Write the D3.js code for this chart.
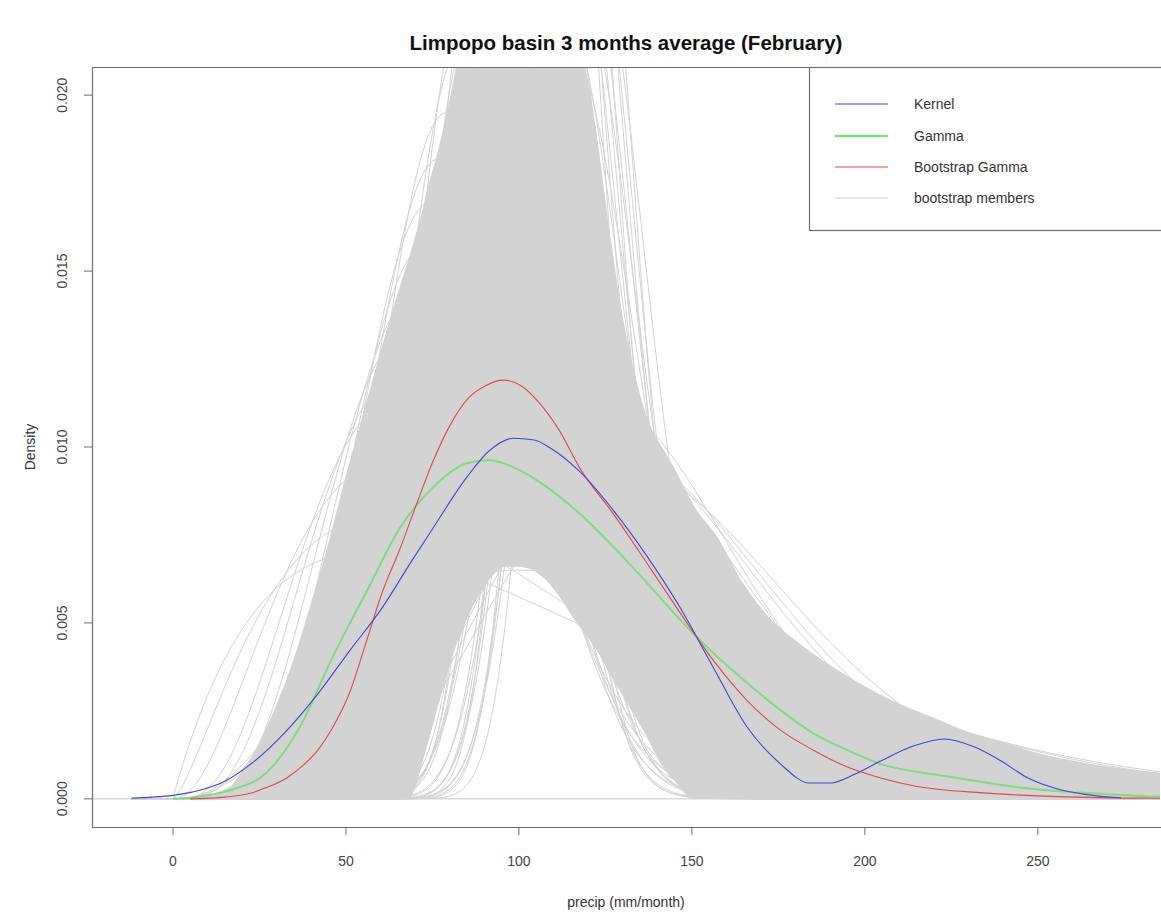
<!DOCTYPE html>
<html>
<head>
<meta charset="utf-8">
<script src="https://cdn.jsdelivr.net/npm/d3@7"></script>
<style>
  body { margin: 0; background: #ffffff; }
  svg { display: block; }
  text { font-family: "Liberation Sans", Arial, sans-serif; }
</style>
</head>
<body>
<svg id="chart" width="1161" height="914"></svg>
<script>
// ---- labels ----
const chartTitle = "Limpopo basin 3 months average (February)";
const xAxisLabel = "precip (mm/month)";
const yAxisLabel = "Density";
const xTickValues = [0, 50, 100, 150, 200, 250];
const yTickValues = [0, 0.005, 0.010, 0.015, 0.020];
const yTickLabels = ["0.000", "0.005", "0.010", "0.015", "0.020"];
const legendLabels = ["Kernel", "Gamma", "Bootstrap Gamma", "bootstrap members"];

// ---- kernel density estimate ----
const kernelX = [-12, -6, 0, 8, 15, 22, 32, 42, 51, 60.6, 68.6, 75.2, 85, 91.5, 98.4, 104.4, 109.4, 117.6,
  127.3, 137, 146.5, 156.1, 165.9, 175.5, 184, 190, 197, 205, 214, 223, 231, 239, 247, 255, 264, 274];
const kernelY = [0.00002, 0.00005, 0.0001, 0.00025, 0.0005, 0.00095, 0.00185, 0.003, 0.0042, 0.00545, 0.0067,
  0.0077, 0.00915, 0.0099, 0.01025, 0.0102, 0.00995, 0.0093, 0.0082, 0.0069, 0.00545, 0.00375, 0.00205, 0.001,
  0.00045, 0.00045, 0.0007, 0.0011, 0.0015, 0.0017, 0.0015, 0.0011, 0.0006, 0.0003, 0.00012, 0.00003];

// ---- fitted gamma density ----
const gammaX = [0, 5, 10, 17, 27, 37, 46, 56, 65.6, 75.2, 85, 91.5, 98.3, 108.1, 117.6, 127.3, 137, 146.5,
  156.1, 165.9, 175.5, 185, 194.8, 204.3, 224.5, 243.6, 263, 283, 300];
const gammaY = [0, 0.00003, 0.0001, 0.00026, 0.00074, 0.0021, 0.004, 0.0059, 0.0077, 0.00886, 0.00954, 0.00962,
  0.00943, 0.00886, 0.0081, 0.00716, 0.00614, 0.0051, 0.00415, 0.0033, 0.00253, 0.00187, 0.00139, 0.001,
  0.00063, 0.00034, 0.00017, 0.00007, 0.00004];

// ---- bootstrap gamma density ----
const bootX = [5, 15, 22, 27, 33, 37, 42, 46, 51, 56, 60.6, 65.6, 70.5, 75.2, 80, 85.5, 90.5, 95.5, 100.5, 105.5,
  111.5, 117.6, 127.3, 137, 146.5, 156.1, 165.9, 175.5, 185, 194.8, 204.3, 214.7, 234, 253.5, 278, 300];
const bootY = [0, 0.00005, 0.00015, 0.00032, 0.0006, 0.0009, 0.0014, 0.002, 0.003, 0.0045, 0.0059, 0.0071,
  0.0084, 0.0096, 0.0106, 0.0114, 0.01175, 0.0119, 0.01175, 0.0113, 0.0105, 0.0094, 0.0081, 0.0067, 0.0053,
  0.00395, 0.0028, 0.00196, 0.00139, 0.00091, 0.0006, 0.00036, 0.00017, 0.00007, 0.00002, 0.00001];

// ---- bootstrap members: extent of the region where the curves overlap into solid grey ----
const bandX = [14, 20, 25, 30, 35, 40, 45, 50, 56, 62, 66, 68, 70, 72, 74, 76, 78, 80, 84, 88, 92, 96, 100,
  104, 108, 112, 116, 119, 122, 126, 129, 132, 135, 138, 142, 146, 150, 157, 165, 172, 180, 190, 200, 210,
  220, 230, 240, 250, 265, 280, 292];
const bandTop = [0, 0.0008, 0.0016, 0.0027, 0.004, 0.0056, 0.0073, 0.0092, 0.0113, 0.0134, 0.0147, 0.0153,
  0.016, 0.0167, 0.0175, 0.0182, 0.019, 0.0199, 0.0215, 0.0215, 0.0215, 0.0215, 0.0215, 0.0215, 0.0215,
  0.0215, 0.0215, 0.0208, 0.0192, 0.0163, 0.0143, 0.0127, 0.0115, 0.0106, 0.0099, 0.0092, 0.0084, 0.0075,
  0.0061, 0.0052, 0.0045, 0.0038, 0.0032, 0.0027, 0.0023, 0.0019, 0.0016, 0.0013, 0.001, 0.0008, 0.0007];
const bandBottom = [0, 0, 0, 0, 0, 0, 0, 0, 0, 0, 0, 0, 0.0003, 0.001, 0.0017, 0.0024, 0.0031, 0.0038,
  0.0049, 0.0057, 0.0063, 0.0066, 0.0066, 0.0065, 0.0062, 0.0057, 0.0051, 0.0047, 0.0043, 0.0036, 0.0031,
  0.0026, 0.0021, 0.0016, 0.0009, 0.0004, 0, 0, 0, 0, 0, 0, 0, 0, 0, 0, 0, 0, 0, 0, 0];

// ---- bootstrap members: gamma fits, given by mode (mm/month) and peak density ----
const memberMode = [
  100, 96, 104, 92, 108, 98, 102, 112, 94, 106, 99, 110, 103, 97, 105, 101,
  56, 60, 63, 66, 68, 70, 72, 74, 75, 77, 79,
  116, 118, 120, 122, 124, 126, 128, 131,
  80, 82, 84, 85, 86, 87, 88, 89, 90, 90, 91, 92, 93, 94, 95, 95, 96, 97, 98, 99,
  100, 100, 101, 102, 103, 104, 105, 106, 107, 108, 109, 110, 111, 112, 114, 115,
  84, 85, 86, 87, 88, 88, 89, 90, 90, 91, 92, 92, 93, 94, 94, 95, 95, 96, 96, 97,
  98, 98, 99, 100, 100, 101, 102, 102, 103, 104, 104, 105, 106, 106, 107, 108, 109, 110, 111, 112,
  95, 95, 96, 96, 97, 97, 98, 98, 99, 99, 99, 100, 100, 100, 101, 101, 102,
  102, 102, 103, 103, 104, 104, 105, 105, 105, 106, 106, 107, 107, 108, 108, 97, 103,
  84, 86, 88, 112, 114, 116, 110, 90,
  112, 114, 115, 116, 117, 118, 119, 113, 120, 111
];
const memberPeak = [
  0.0065, 0.0068, 0.0067, 0.0071, 0.0070, 0.0074, 0.0076, 0.0073, 0.0079, 0.0081, 0.0083, 0.0078, 0.0086, 0.0088, 0.0090, 0.0092,
  0.0070, 0.0080, 0.0096, 0.0114, 0.0122, 0.0134, 0.0145, 0.0158, 0.0170, 0.0182, 0.0195,
  0.0125, 0.0112, 0.0118, 0.0106, 0.0113, 0.0101, 0.0099, 0.0094,
  0.0128, 0.0112, 0.0135, 0.0098, 0.0121, 0.0140, 0.0105, 0.0131, 0.0094, 0.0117, 0.0138, 0.0126, 0.0109, 0.0133, 0.0099, 0.0121, 0.0139, 0.0114, 0.0128, 0.0103,
  0.0136, 0.0119, 0.0096, 0.0130, 0.0111, 0.0138, 0.0124, 0.0101, 0.0133, 0.0116, 0.0127, 0.0108, 0.0135, 0.0120, 0.0112, 0.0130,
  0.0152, 0.0178, 0.0165, 0.0195, 0.0147, 0.0186, 0.0171, 0.0158, 0.0199, 0.0182, 0.0149, 0.0168, 0.0190, 0.0161, 0.0177, 0.0145, 0.0196, 0.0184, 0.0157, 0.0170,
  0.0189, 0.0151, 0.0175, 0.0163, 0.0198, 0.0181, 0.0154, 0.0172, 0.0193, 0.0166, 0.0148, 0.0185, 0.0159, 0.0176, 0.0192, 0.0162, 0.0179, 0.0150, 0.0169, 0.0157,
  0.0212, 0.0265, 0.0238, 0.0301, 0.0221, 0.0279, 0.0252, 0.0322, 0.0207, 0.0244, 0.0289, 0.0229, 0.0271, 0.0335, 0.0215, 0.0258, 0.0233,
  0.0297, 0.0226, 0.0276, 0.0211, 0.0249, 0.0312, 0.0224, 0.0268, 0.0203, 0.0241, 0.0285, 0.0218, 0.0259, 0.0232, 0.0275, 0.0205, 0.0242,
  0.0215, 0.0232, 0.0224, 0.0228, 0.0214, 0.0236, 0.0245, 0.0251,
  0.0300, 0.0280, 0.0320, 0.0260, 0.0290, 0.0270, 0.0310, 0.0265, 0.0250, 0.0330
];

// ---- layout ----
const svg = d3.select("#chart");
const plot = { left: 92, right: 1160, top: 67, bottom: 827 };

const x = d3.scaleLinear().domain([-23.4, 285.3]).range([plot.left, plot.right]);
const y = d3.scaleLinear().domain([-0.0008, 0.0208]).range([plot.bottom, plot.top]);

svg.append("defs").append("clipPath").attr("id", "plot-clip")
  .append("rect")
  .attr("x", plot.left).attr("y", plot.top)
  .attr("width", plot.right - plot.left).attr("height", plot.bottom - plot.top);

const area = svg.append("g").attr("clip-path", "url(#plot-clip)");

// zero line
area.append("line")
  .attr("x1", plot.left).attr("x2", plot.right)
  .attr("y1", y(0)).attr("y2", y(0))
  .attr("stroke", "#c8c8c8").attr("stroke-width", 1);

const memberGray = "#d3d3d3";
const line = d3.line().x(d => x(d[0])).y(d => y(d[1]));
const smooth = d3.line().x(d => x(d[0])).y(d => y(d[1])).curve(d3.curveMonotoneX);

// solid band where the member curves overlap densely
const band = d3.area()
  .x((d, i) => x(bandX[i]))
  .y0((d, i) => y(bandBottom[i]))
  .y1((d, i) => y(bandTop[i]))
  .curve(d3.curveMonotoneX);
area.append("path")
  .attr("d", band(bandX))
  .attr("fill", memberGray);

// member curves evaluated along the precipitation axis
const gridX = d3.range(-12, 301, 1);
function gammaCurve(mode, peak) {
  const k = 1 + Math.pow(Math.sqrt(2 * Math.PI) * peak * mode, 2);
  const theta = mode / (k - 1);
  return gridX.map(v => [v, v <= 0 ? 0 : peak * Math.exp((k - 1) * Math.log(v / mode) - (v - mode) / theta)]);
}

area.append("g").selectAll("path")
  .data(memberMode.map((m, i) => gammaCurve(m, memberPeak[i])))
  .join("path")
  .attr("d", line)
  .attr("fill", "none")
  .attr("stroke", memberGray)
  .attr("stroke-width", 1);

const curves = [
  { xs: gammaX, ys: gammaY, color: "#7ddd7d", width: 2 },
  { xs: bootX, ys: bootY, color: "#e04848", width: 1.1 },
  { xs: kernelX, ys: kernelY, color: "#4444d4", width: 1.1 }
];
area.append("g").selectAll("path")
  .data(curves)
  .join("path")
  .attr("d", c => smooth(c.xs.map((v, i) => [v, c.ys[i]])))
  .attr("fill", "none")
  .attr("stroke", c => c.color)
  .attr("stroke-width", c => c.width);

// frame (right side lies past the window edge)
svg.append("path")
  .attr("d", `M${plot.right + 3},${plot.top + 0.5}H${plot.left + 0.5}V${plot.bottom + 0.5}H${plot.right + 3}`)
  .attr("fill", "none").attr("stroke", "#6e6e6e").attr("stroke-width", 1.2);

// x axis
const xAxis = svg.append("g");
xAxis.selectAll("line").data(xTickValues).join("line")
  .attr("x1", d => x(d)).attr("x2", d => x(d))
  .attr("y1", plot.bottom).attr("y2", plot.bottom + 8)
  .attr("stroke", "#6e6e6e");
xAxis.selectAll("text").data(xTickValues).join("text")
  .attr("x", d => x(d)).attr("y", 861)
  .attr("text-anchor", "middle").attr("dominant-baseline", "central")
  .attr("font-size", 14).attr("fill", "#444")
  .text(d => d);

// y axis
const yAxis = svg.append("g");
yAxis.selectAll("line").data(yTickValues).join("line")
  .attr("x1", plot.left - 8).attr("x2", plot.left)
  .attr("y1", d => y(d)).attr("y2", d => y(d))
  .attr("stroke", "#6e6e6e");
yAxis.selectAll("text").data(yTickValues).join("text")
  .attr("transform", d => `translate(62,${y(d)}) rotate(-90)`)
  .attr("text-anchor", "middle").attr("dominant-baseline", "central")
  .attr("font-size", 14).attr("fill", "#444")
  .text((d, i) => yTickLabels[i]);

// axis titles and main title
svg.append("text")
  .attr("x", (plot.left + plot.right) / 2).attr("y", 902)
  .attr("text-anchor", "middle").attr("dominant-baseline", "central")
  .attr("font-size", 14).attr("fill", "#333")
  .text(xAxisLabel);
svg.append("text")
  .attr("transform", `translate(30,${(plot.top + plot.bottom) / 2}) rotate(-90)`)
  .attr("text-anchor", "middle").attr("dominant-baseline", "central")
  .attr("font-size", 14).attr("fill", "#333")
  .text(yAxisLabel);
svg.append("text")
  .attr("x", (plot.left + plot.right) / 2).attr("y", 42)
  .attr("text-anchor", "middle").attr("dominant-baseline", "central")
  .attr("font-size", 20.5).attr("font-weight", "bold").attr("fill", "#111")
  .text(chartTitle);

// legend
const legendColors = ["#4444d4", "#7ddd7d", "#e04848", "#e6e6e6"];
const legendWidths = [1.1, 2.5, 1.1, 2];
const legendRows = [104, 136, 167, 198];
const legend = svg.append("g");
legend.append("rect")
  .attr("x", 809.5).attr("y", plot.top + 0.5)
  .attr("width", plot.right + 3 - 809.5).attr("height", 230 - plot.top)
  .attr("fill", "#fff").attr("stroke", "#6e6e6e").attr("stroke-width", 1.2);
legend.selectAll("line").data(legendLabels).join("line")
  .attr("x1", 835).attr("x2", 888)
  .attr("y1", (d, i) => legendRows[i]).attr("y2", (d, i) => legendRows[i])
  .attr("stroke", (d, i) => legendColors[i])
  .attr("stroke-width", (d, i) => legendWidths[i]);
legend.selectAll("text").data(legendLabels).join("text")
  .attr("x", 914).attr("y", (d, i) => legendRows[i])
  .attr("dominant-baseline", "central")
  .attr("font-size", 14).attr("fill", "#333")
  .text(d => d);
</script>
</body>
</html>
